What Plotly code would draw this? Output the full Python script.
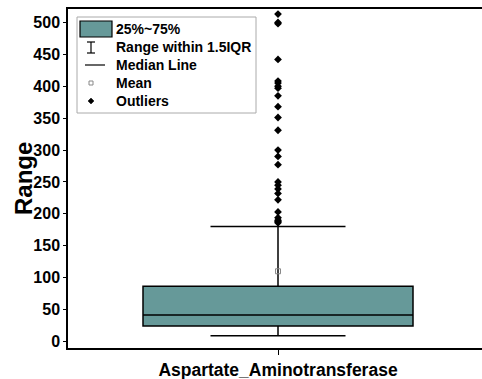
import plotly.graph_objects as go

# ---- data ----
category = ["Aspartate_Aminotransferase"]
q1 = [24.3]
median = [41.5]
q3 = [86.5]
lower_fence = [9]
upper_fence = [180]
mean_val = [110]
outliers = [513, 500, 498, 442, 408, 405, 400, 397, 385, 368, 351, 331, 300, 290,
            277, 250, 245, 239, 232, 222, 203, 194, 190, 188, 186]
y_ticks = [0, 50, 100, 150, 200, 250, 300, 350, 400, 450, 500]
legend_labels = ["25%~75%", "Range within 1.5IQR", "Median Line", "Mean", "Outliers"]
y_title = "Range"

TEAL = "#669999"
FONT = "Liberation Sans"
W, H = 482, 379
ML, MR, MT, MB = 68, 0, 9, 31

fig = go.Figure()
fig.add_trace(go.Box(
    x=[0], q1=q1, median=median, q3=q3,
    lowerfence=lower_fence, upperfence=upper_fence,
    width=270, whiskerwidth=0.5, fillcolor=TEAL,
    line=dict(color="black", width=1.5), boxpoints=False, showlegend=False,
))
fig.add_trace(go.Scatter(
    x=[0] * len(mean_val), y=mean_val, mode="markers",
    marker=dict(symbol="square-open", size=5, color="#888888", line=dict(width=1)),
    showlegend=False,
))
fig.add_trace(go.Scatter(
    x=[0] * len(outliers), y=outliers, mode="markers",
    marker=dict(symbol="diamond", size=6, color="black"),
    showlegend=False, cliponaxis=False,
))

# helper: pixel -> paper
pw = W - ML - MR
ph = H - MT - MB
def px(X):
    return (X - ML) / pw
def py(Y):
    return (H - MB - Y) / ph

shapes = []
# legend frame
shapes.append(dict(type="rect", xref="paper", yref="paper", x0=px(77), x1=px(256),
                   y0=py(113), y1=py(17), line=dict(color="#aaaaaa", width=1),
                   fillcolor="white", layer="above"))
# swatch
shapes.append(dict(type="rect", xref="paper", yref="paper", x0=px(80), x1=px(112),
                   y0=py(37), y1=py(21), line=dict(color="black", width=1.2),
                   fillcolor=TEAL, layer="above"))
# I-bar
for (x0, y0, x1, y1) in [(91, 42, 91, 53), (87, 42, 95, 42), (87, 53, 95, 53)]:
    shapes.append(dict(type="line", xref="paper", yref="paper", x0=px(x0), x1=px(x1),
                       y0=py(y0), y1=py(y1), line=dict(color="black", width=1.2), layer="above"))
# median line
shapes.append(dict(type="line", xref="paper", yref="paper", x0=px(85), x1=px(105),
                   y0=py(65), y1=py(65), line=dict(color="black", width=1.2), layer="above"))
# mean square
shapes.append(dict(type="rect", xref="paper", yref="paper", x0=px(89), x1=px(93),
                   y0=py(85), y1=py(81), line=dict(color="#888888", width=1), layer="above"))
# outlier diamond
cx, cy, r = 91, 101, 3
shapes.append(dict(type="path", xref="paper", yref="paper",
                   path=f"M {px(cx)},{py(cy-r)} L {px(cx+r)},{py(cy)} L {px(cx)},{py(cy+r)} L {px(cx-r)},{py(cy)} Z",
                   fillcolor="black", line=dict(color="black", width=0.5), layer="above"))

annotations = []
for lab, Y in zip(legend_labels, [29, 47, 65, 83, 101]):
    annotations.append(dict(text=lab, xref="paper", yref="paper", x=px(114), y=py(Y),
                            xanchor="left", yanchor="middle", showarrow=False,
                            font=dict(family=FONT, size=14, color="black", weight="bold")))
# y-axis title
annotations.append(dict(text=y_title, xref="paper", yref="paper", x=px(23), y=py(179),
                        xanchor="center", yanchor="middle", showarrow=False, textangle=-90,
                        font=dict(family=FONT, size=24, color="black", weight="bold")))

fig.update_layout(
    width=W, height=H,
    margin=dict(l=ML, r=MR, t=MT, b=MB),
    paper_bgcolor="white", plot_bgcolor="white",
    shapes=shapes, annotations=annotations,
    xaxis=dict(range=[-210, 204], tickvals=[0], ticktext=category,
               showline=True, linecolor="black", linewidth=1.5, mirror=True,
               ticks="outside", ticklen=5, tickcolor="black", tickwidth=1,
               showgrid=False, zeroline=False,
               tickfont=dict(family=FONT, size=17.5, color="black", weight="bold")),
    yaxis=dict(range=[-10.2, 521], tickvals=y_ticks,
               showline=True, linecolor="black", linewidth=1.5,
               ticks="outside", ticklen=3, tickcolor="black", tickwidth=1,
               showgrid=False, zeroline=False,
               tickfont=dict(family=FONT, size=16, color="black", weight="bold")),
    showlegend=False,
)

fig.write_html("out.html")
